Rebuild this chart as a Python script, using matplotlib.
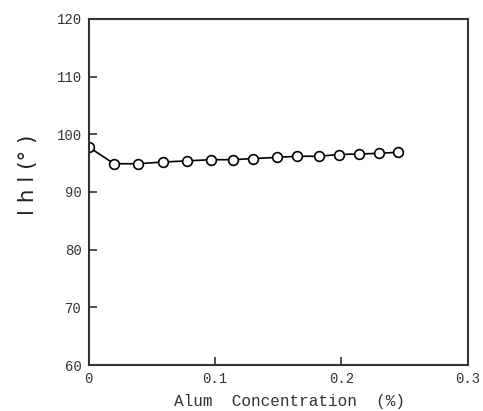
import numpy as np
import matplotlib
matplotlib.use("Agg")
import matplotlib.pyplot as plt

# alum concentration (%) and hue angle |h| (deg)
alum_conc = [0.0, 0.020, 0.039, 0.059, 0.078, 0.097, 0.114, 0.130,
             0.149, 0.165, 0.182, 0.198, 0.214, 0.230, 0.245]
hue_angle = [97.8, 94.9, 94.9, 95.2, 95.4, 95.6, 95.6, 95.8,
             96.0, 96.2, 96.2, 96.5, 96.6, 96.7, 96.9]

x_ticks = [0, 0.1, 0.2, 0.3]
x_ticklabels = ["0", "0.1", "0.2", "0.3"]
y_ticks = [60, 70, 80, 90, 100, 110, 120]

fig = plt.figure(figsize=(4.83, 4.11), dpi=100)
ax = fig.add_axes([0.1837, 0.1119, 0.7846, 0.8419])

ax.plot(alum_conc, hue_angle, color="black", linewidth=1.2,
        marker="o", markersize=7, markerfacecolor="white",
        markeredgecolor="black", markeredgewidth=1.2)

ax.set_xlim(0, 0.3)
ax.set_ylim(60, 120)
ax.set_xticks(x_ticks)
ax.set_xticklabels(x_ticklabels)
ax.set_yticks(y_ticks)

for sp in ax.spines.values():
    sp.set_color("#333333")
    sp.set_linewidth(1.5)

ax.tick_params(direction="in", length=6, width=1.2, color="#333333",
               labelsize=10, labelcolor="#333333")
ax.tick_params(axis="y", pad=5)
ax.tick_params(axis="x", pad=5)
for lab in ax.get_xticklabels() + ax.get_yticklabels():
    lab.set_family("Liberation Mono")

ax.set_xlabel("Alum  Concentration  (%)", family="Liberation Mono",
              fontsize=11.5, color="#333333")
ax.xaxis.set_label_coords(0.53, -0.085)
ax.set_ylabel("l h l (° )", fontsize=15.5, color="#222222")
ax.yaxis.set_label_coords(-0.135, 0.549)

fig.savefig("out.png", dpi=100)
